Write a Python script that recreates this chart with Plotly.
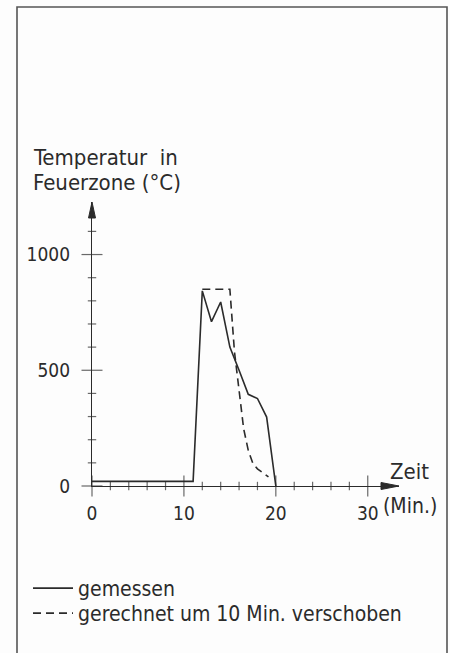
import plotly.graph_objects as go

# ---- data ----
x_gemessen = [0, 11, 12, 13, 14, 15, 16, 17, 18, 19, 20]
y_gemessen = [20, 20, 843, 710, 795, 600, 500, 396, 378, 298, 0]

x_gerechnet = [12, 15, 15.5, 16, 16.5, 17, 17.5, 18, 19.2]
y_gerechnet = [850, 850, 580, 410, 247, 154, 98, 74, 39]

x_tick_vals = [0, 10, 20, 30]
x_tick_text = ["0", "10", "20", "30"]
y_tick_vals = [0, 500, 1000]
y_tick_text = ["0", "500", "1000"]
x_minor = list(range(0, 31, 2))
y_minor = list(range(0, 1101, 100))

W, H = 450, 653
FONT = "DejaVu Sans Condensed, DejaVu Sans, sans-serif"
INK = "#2b2b2b"

def px(x):
    return x / W

def py(y):
    return 1 - y / H

X0, X1 = 92, 399      # pixel extent of x axis
Y0, Y1 = 486, 202     # pixel extent of y axis
XMAX = 33.4
YMAX = 1227

fig = go.Figure()

fig.add_trace(go.Scatter(
    x=x_gemessen, y=y_gemessen, mode="lines", name="gemessen", legend="legend",
    line=dict(color=INK, width=1.6), cliponaxis=False))
fig.add_trace(go.Scatter(
    x=x_gerechnet, y=y_gerechnet, mode="lines", name="gerechnet um 10 Min. verschoben",
    legend="legend2",
    line=dict(color=INK, width=1.6, dash="8px,5px"), cliponaxis=False))

# crossing tick marks
fig.add_trace(go.Scatter(
    x=x_minor, y=[0] * len(x_minor), mode="markers", showlegend=False, hoverinfo="skip",
    marker=dict(symbol="line-ns", size=[15 if v in x_tick_vals else 6 for v in x_minor],
                line=dict(color=INK, width=1.2), color=INK),
    cliponaxis=False))
fig.add_trace(go.Scatter(
    x=[0] * len(y_minor), y=y_minor, mode="markers", showlegend=False, hoverinfo="skip",
    marker=dict(symbol="line-ew", size=[15 if v in y_tick_vals else 6 for v in y_minor],
                line=dict(color=INK, width=1.2), color=INK),
    cliponaxis=False))

legend_style = dict(xanchor="left", yanchor="top", bgcolor="rgba(0,0,0,0)",
                    font=dict(size=21, family=FONT, color=INK), itemwidth=40)

fig.update_layout(
    width=W, height=H,
    margin=dict(l=0, r=0, t=0, b=0, autoexpand=False),
    paper_bgcolor="#fdfdfd", plot_bgcolor="rgba(0,0,0,0)",
    font=dict(family=FONT, color=INK, size=19),
    showlegend=True,
    legend=dict(x=px(28), y=py(568), **legend_style),
    legend2=dict(x=px(28), y=py(593), **legend_style),
    xaxis=dict(domain=[px(X0), px(X1)], range=[0, XMAX], showgrid=False, zeroline=False,
               showline=True, linecolor=INK, linewidth=1.3, ticks="", automargin=False,
               tickvals=x_tick_vals, ticktext=x_tick_text, ticklabelstandoff=10,
               tickfont=dict(size=19, family=FONT, color=INK), fixedrange=True),
    yaxis=dict(domain=[py(Y0), py(Y1)], range=[0, YMAX], showgrid=False, zeroline=False,
               showline=True, linecolor=INK, linewidth=1.3, ticks="", automargin=False,
               tickvals=y_tick_vals, ticktext=y_tick_text, ticklabelstandoff=17,
               tickfont=dict(size=19, family=FONT, color=INK), fixedrange=True),
)

# arrow heads (paper coordinates, unclipped)
fig.add_shape(type="path", xref="paper", yref="paper",
              path=f"M{px(X1)},{py(Y0)} L{px(X1-18)},{py(Y0-3.5)} L{px(X1-18)},{py(Y0+3.5)} Z",
              fillcolor=INK, line=dict(color=INK, width=1))
fig.add_shape(type="path", xref="paper", yref="paper",
              path=f"M{px(X0)},{py(Y1)} L{px(X0-3.5)},{py(Y1+16)} L{px(X0+3.5)},{py(Y1+16)} Z",
              fillcolor=INK, line=dict(color=INK, width=1))

# frame
fig.add_shape(type="path", xref="paper", yref="paper",
              path=f"M{px(17)},{py(660)} L{px(17)},{py(7)} L{px(447)},{py(7)} L{px(447)},{py(660)}",
              line=dict(color="#555555", width=1.6))

ann = dict(xref="paper", yref="paper", showarrow=False, xanchor="left", yanchor="middle",
           font=dict(size=22, family=FONT, color=INK))
fig.add_annotation(text="Temperatur\u00a0\u00a0in", x=px(31), y=py(157), **ann)
fig.add_annotation(text="Feuerzone (°C)", x=px(31), y=py(182), **ann)
fig.add_annotation(text="Zeit", x=px(388), y=py(471), **ann)
fig.add_annotation(text="(Min.)", x=px(381), y=py(506),
                   **{**ann, "font": dict(size=21, family=FONT, color=INK)})

fig.write_html("out.html", config={"displayModeBar": False},
               post_script="document.body.style.margin='0';document.body.style.overflow='hidden';")
